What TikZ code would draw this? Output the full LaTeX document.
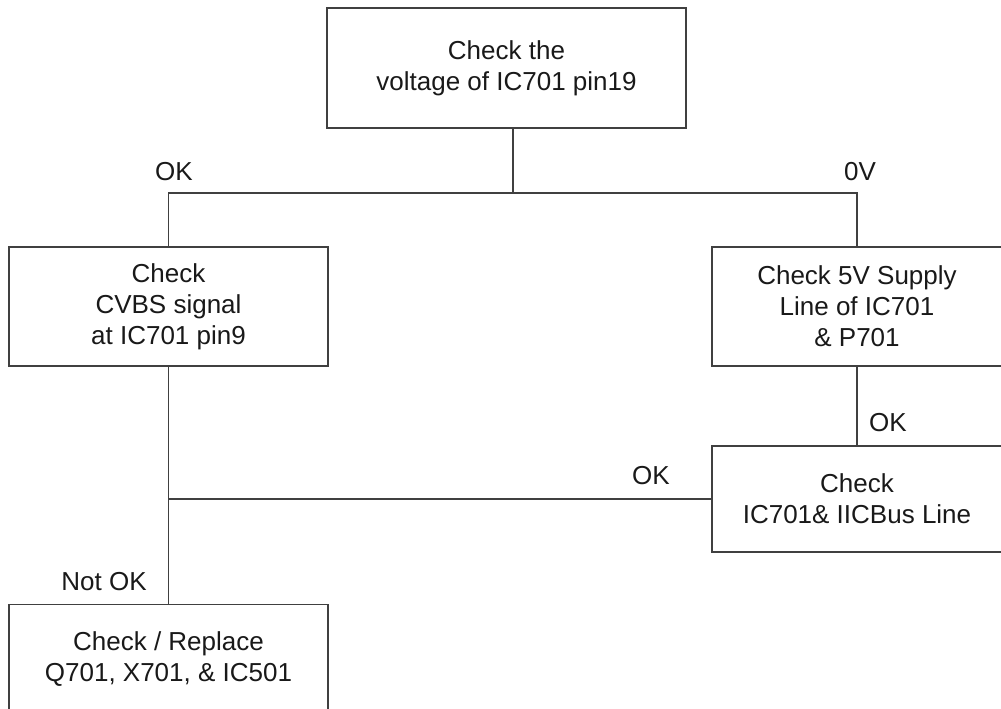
\documentclass[tikz,border=0pt]{standalone}
\usepackage{fontspec}
\setmainfont{Liberation Sans}
\begin{document}
\begin{tikzpicture}[x=1pt,y=-1pt,
  every node/.style={text=black!90, font=\fontsize{26}{31}\selectfont},
  box/.style={draw=black!75, line width=1.3pt, align=center, inner sep=0pt},
  conn/.style={draw=black!75, line width=1.3pt},
  lbl/.style={inner sep=0pt, anchor=center}]
\useasboundingbox (0,0) rectangle (1001,709);
\clip (0,0) rectangle (1001,709);
\node[box, minimum width=359pt, minimum height=120pt] (top) at (506.5,68) {Check the\\voltage of IC701 pin19};
\node[box, minimum width=319pt, minimum height=119pt] (left) at (168.5,306.5) {Check\\CVBS signal\\at IC701 pin9};
\node[box, minimum width=290pt, minimum height=119pt] (right) at (857,306.5) {Check 5V Supply\\Line of IC701\\\& P701};
\node[box, minimum width=290pt, minimum height=106pt] (iic) at (857,499) {Check\\IC701\& IICBus Line};
\node[box, minimum width=319pt, minimum height=108pt, anchor=north] (bot) at (168.5,604) {Check / Replace\\Q701, X701, \& IC501};
\coordinate (j) at (513,193);
\draw[conn] (top.south -| j) -- (j);
\draw[conn] (left.north) |- (j) -| (right.north);
\draw[conn] (left.south) -- (bot.north);
\draw[conn] (right.south) -- (iic.north);
\draw[conn] (iic.west) -- (iic.west -| left.south);
\node[lbl] (okl) at (174,172) {OK};
\node[lbl] (ov) at (860,172) {0V};
\node[lbl] (okr) at (888,423) {OK};
\node[lbl] (okm) at (651,476) {OK};
\node[lbl] (nok) at (104,582) {Not OK};
\end{tikzpicture}
\end{document}
